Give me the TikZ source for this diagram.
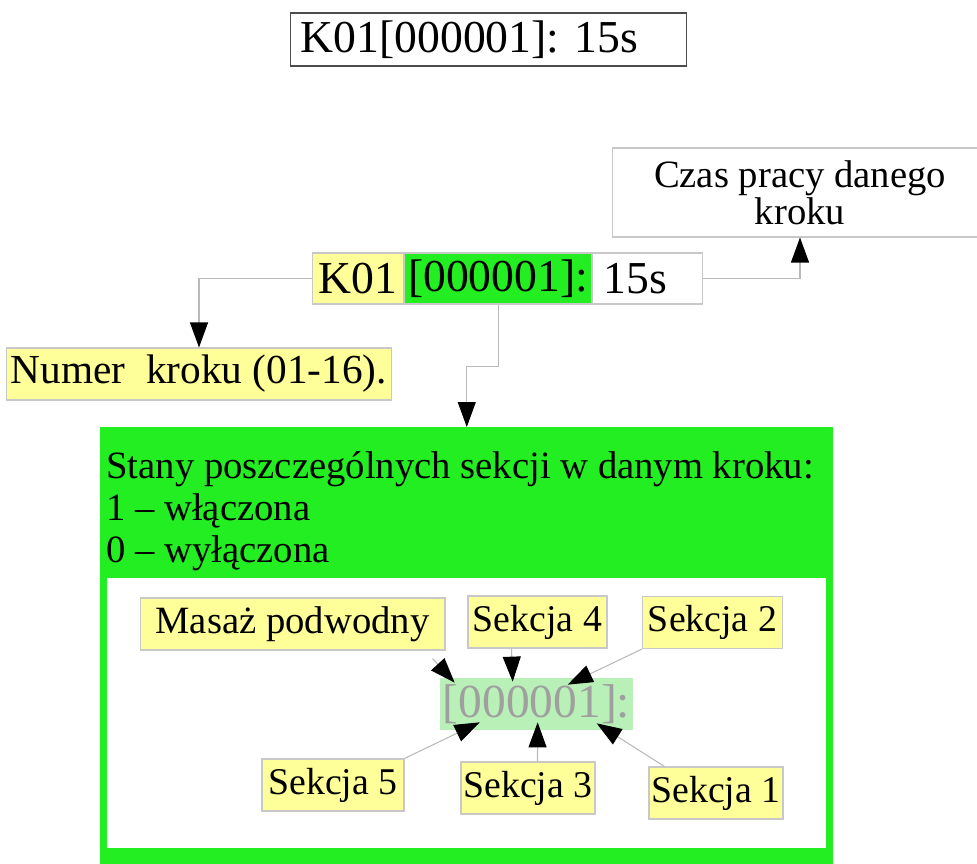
\documentclass[tikz,border=0pt]{standalone}
\usepackage{fontspec}
\setmainfont{Liberation Serif}
\usetikzlibrary{positioning,arrows.meta,calc}

\definecolor{gelb}{HTML}{FFFF99}
\definecolor{gruen}{HTML}{22EE22}
\definecolor{hellgruen}{HTML}{B8F0B8}
\definecolor{rand}{HTML}{C8C8C8}
\newcommand{\grosz}{\fontsize{26}{30}\selectfont}
\newcommand{\normz}{\fontsize{22}{24}\selectfont}
\newcommand{\numz}{\fontsize{23.5}{26}\selectfont}
\newcommand{\czasz}{\fontsize{22}{21}\selectfont}
\newcommand{\sekz}{\fontsize{21.5}{24}\selectfont}
\newcommand{\kodz}{\fontsize{27}{30}\selectfont}
\frenchspacing

\begin{document}
\begin{tikzpicture}[x=0.02cm, y=-0.02cm,
  feld/.style={draw=rand, line width=0.6pt, inner sep=2pt, minimum height=1.02cm, font=\grosz},
  sektag/.style={draw=rand, line width=0.6pt, fill=gelb, inner xsep=0.05cm, minimum height=1.04cm, font=\sekz},
  pfeil/.style={draw=gray!55, line width=0.6pt, -{Triangle[length=0.5cm, width=0.36cm, color=black]}}
]
\useasboundingbox (0,0) rectangle (977,864);

% Zeile oben
\node[draw=black!70, line width=0.8pt, font=\grosz, align=left, text width=7.52cm, inner xsep=0.2cm, minimum height=1.06cm, anchor=west] (kopf) at (290,39.5) {K01[000001]: 15s};

% Aufbau des Schrittes
\node[feld, fill=gelb, minimum width=1.82cm, anchor=west] (krok) at (312,278.5) {K01};
\node[feld, fill=gruen, minimum width=3.74cm, right=0pt of krok] (stan) {[000001]:};
\node[feld, fill=white, align=left, text width=1.76cm, inner xsep=0.22cm, right=0pt of stan] (czas) {15s};

\node[draw=rand, line width=0.6pt, font=\czasz, align=center, minimum width=7.52cm, minimum height=1.78cm] (czasopis) at (800,192.5) {Czas pracy danego\\kroku};
\node[sektag, font=\numz, inner xsep=0.08cm, minimum width=7.56cm] (numer) at (199,374) {Numer\ \ kroku (01-16).};

% Sekcje
\node[fill=gruen, inner sep=0pt, minimum width=14.66cm, minimum height=9.4cm, anchor=north west] (stany) at (100,427) {};
\node[fill=white, inner sep=0pt, minimum width=14.38cm, minimum height=5.4cm, anchor=north west] (panel) at (107,578) {};
\node[font=\normz, align=left, anchor=north west, inner xsep=0.12cm, inner ysep=0.48cm] (stanyopis) at (100,427) {Stany poszczególnych sekcji w danym kroku:\\1 – włączona\\0 – wyłączona};

\draw[pfeil] (krok.west) -| (numer.north);
\draw[pfeil] (czas.east) -| (czasopis.south);
\draw[pfeil] (stan.south) -- ++(0,62) -| (stany.north);

\node[fill=hellgruen, text=gray!75, font=\kodz, inner sep=1pt, minimum width=3.86cm, minimum height=1.04cm] (kod) at (536.5,704) {[000001]:};

\node[sektag, font=\normz, minimum width=6.1cm] (masaz) at (292.5,624) {Masaż podwodny};
\node[sektag, minimum width=2.78cm] (s4) at (537.5,622) {Sekcja 4};
\node[sektag, minimum width=2.8cm] (s2) at (712.5,622.5) {Sekcja 2};
\node[sektag, minimum width=2.84cm] (s5) at (333,785) {Sekcja 5};
\node[sektag, minimum width=2.68cm] (s3) at (528,788) {Sekcja 3};
\node[sektag, minimum width=2.64cm] (s1) at (716,793) {Sekcja 1};

\draw[pfeil] ($(masaz.south east)+(-13,8)$) -- ($(kod.north west)+(15,5)$);
\draw[pfeil] ($(s4.south west)+(44,0)$) -- ($(kod.north west)+(73,4)$);
\draw[pfeil] (s2.south west) -- ($(kod.north west)+(128,7)$);
\draw[pfeil] (s5.north east) -- ($(kod.south west)+(40,-8)$);
\draw[pfeil] ($(s3.north west)+(77,0)$) -- ($(kod.south west)+(98,-8)$);
\draw[pfeil] ($(s1.north west)+(16,0)$) -- ($(kod.south west)+(157,-7)$);
\end{tikzpicture}
\end{document}
